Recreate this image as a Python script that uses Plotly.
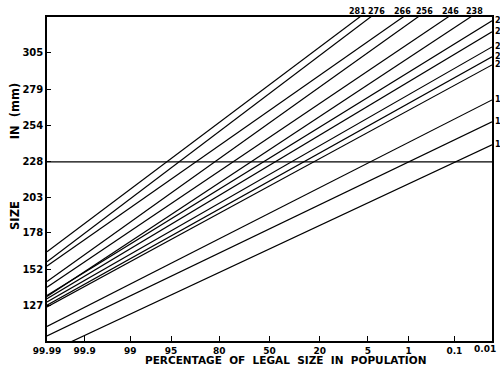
import plotly.graph_objects as go
from statistics import NormalDist

# ---- data ----
# percentage of legal size in population (probability axis)
pct_ticks = [99.99, 99.9, 99, 95, 80, 50, 20, 5, 1, 0.1, 0.01]
pct_labels = ["99.99", "99.9", "99", "95", "80", "50", "20", "5", "1", "0.1", "0.01"]

# size axis (mm)
size_ticks = [127, 152, 178, 203, 228, 254, 279, 305]
size_min, size_max = 101.6, 330.2
legal_size = 228

# each line: size (mm) at 99.99 % and at 0.01 %
size_at_9999 = [164.5, 157.5, 154.5, 143.5, 139.5, 133.0,
                133.7, 131.4, 129.1, 126.8, 125.6,
                111.8, 105.2, 93.1]
size_at_0001 = [400.3, 395.0, 374.1, 367.5, 351.1, 340.2,
                327.5, 319.7, 309.1, 302.1, 296.4,
                271.7, 256.2, 240.0]
line_labels = ["281", "276", "266", "256", "246", "238",
               "231", "226", "219", "214", "212",
               "191", "181", "167"]
label_xshift = [-2, 6, -1, 7, 2, 4, 0, 0, 0, 0, 0, 0, 0, 0]

nd = NormalDist()


def zpos(p):
    return nd.inv_cdf(1 - p / 100.0)


x_lo, x_hi = zpos(99.99), zpos(0.01)

fig = go.Figure()
for L, R in zip(size_at_9999, size_at_0001):
    fig.add_trace(go.Scatter(x=[x_lo, x_hi], y=[L, R], mode="lines",
                             line=dict(color="black", width=1.2),
                             hoverinfo="skip", showlegend=False))

# legal size line
fig.add_trace(go.Scatter(x=[x_lo, x_hi], y=[legal_size, legal_size], mode="lines",
                         line=dict(color="black", width=1.4),
                         hoverinfo="skip", showlegend=False))

font_b = dict(family="DejaVu Sans", size=10, color="black", weight="bold")
annotations = []
for L, R, lab, dx in zip(size_at_9999, size_at_0001, line_labels, label_xshift):
    if R > size_max:
        xe = x_lo + (size_max - L) / (R - L) * (x_hi - x_lo)
        annotations.append(dict(x=xe, y=1, xref="x", yref="paper", text=lab,
                                showarrow=False, xanchor="center", yanchor="bottom",
                                xshift=dx, yshift=-1, font=dict(font_b, size=8)))
    else:
        annotations.append(dict(x=1, y=R, xref="paper", yref="y", text=lab,
                                showarrow=False, xanchor="left", yanchor="middle",
                                xshift=1, font=dict(font_b, size=8)))

# last x tick label sits at the page edge: drawn right-aligned so it stays visible
tick_text = pct_labels[:-1] + [""]
annotations.append(dict(x=1, y=0, xref="paper", yref="paper", text=pct_labels[-1],
                        showarrow=False, xanchor="right", yanchor="top",
                        xshift=6, yshift=-1, font=dict(font_b, size=9)))

annotations.append(dict(x=0.535, y=-0.033, xref="paper", yref="paper",
                        text="PERCENTAGE  OF  LEGAL  SIZE  IN  POPULATION",
                        showarrow=False, xanchor="center", yanchor="top",
                        font=dict(font_b, size=10.5)))
annotations.append(dict(x=-0.072, y=0.389, xref="paper", yref="paper", text="SIZE",
                        showarrow=False, textangle=-90, xanchor="center", yanchor="middle",
                        font=dict(font_b, size=11.5)))
annotations.append(dict(x=-0.072, y=0.709, xref="paper", yref="paper", text="IN  (mm)",
                        showarrow=False, textangle=-90, xanchor="center", yanchor="middle",
                        font=dict(font_b, size=11.5)))

fig.update_layout(
    width=500, height=375,
    margin=dict(l=47, r=6, t=16.5, b=33.5),
    paper_bgcolor="white", plot_bgcolor="white",
    annotations=annotations,
    showlegend=False,
)
fig.update_xaxes(range=[x_lo, x_hi], tickvals=[zpos(p) for p in pct_ticks],
                 ticktext=tick_text, ticks="inside", ticklen=5, tickwidth=1.2,
                 tickcolor="black", showgrid=False, zeroline=False,
                 showline=True, linecolor="black", linewidth=1.5, mirror=True,
                 tickfont=dict(font_b, size=9), ticklabelstandoff=0)
fig.update_yaxes(range=[size_min, size_max], tickvals=size_ticks,
                 ticktext=[str(v) for v in size_ticks], ticks="inside", ticklen=4,
                 tickwidth=1.2, tickcolor="black", showgrid=False, zeroline=False,
                 showline=True, linecolor="black", linewidth=1.5, mirror=True,
                 tickfont=font_b)

fig.write_html("out.html", config={"displayModeBar": False},
               post_script="document.body.style.margin='0';document.body.style.overflow='hidden';")
